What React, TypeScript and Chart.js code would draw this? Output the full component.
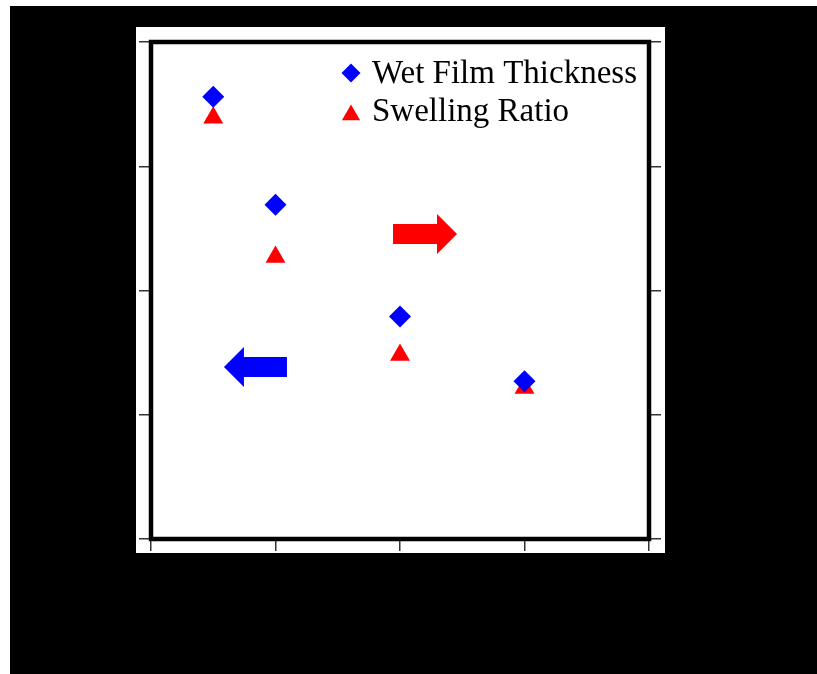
import React, { useEffect, useRef } from "react";
import { Chart, registerables } from "chart.js";

Chart.register(...registerables);

// Data (x in axis units, y normalized axis units 0–4)
const xValues = [0.5, 1, 2, 3];
const wetFilmThickness = [3.56, 2.69, 1.79, 1.27];
const swellingRatio = [3.39, 2.27, 1.48, 1.215];
const seriesLabels = ["Wet Film Thickness", "Swelling Ratio"];
const seriesColors = ["#0000ff", "#ff0000"];

const xTicks = [0, 1, 2, 3, 4];
const yTicks = [0, 1, 2, 3, 4];

// Arrows: [fromX, toX, y] in data units (points from -> to)
const redArrow = [1.944, 2.458, 2.455];
const blueArrow = [1.092, 0.586, 1.384];

const SERIF = '"Liberation Serif", "Times New Roman", serif';

const bgPlugin = {
  id: "plotBg",
  beforeDraw(chart: any) {
    const { ctx, chartArea: a } = chart;
    ctx.save();
    ctx.fillStyle = "#ffffff";
    ctx.fillRect(a.left - 15, a.top - 15, a.right - a.left + 31, a.bottom - a.top + 29);
    ctx.restore();
  },
};

function drawArrow(ctx: any, x0: number, x1: number, y: number, color: string) {
  const dir = x1 > x0 ? 1 : -1;
  const headLen = 20;
  const headHalf = 20;
  const bodyHalf = 10;
  const hb = x1 - dir * headLen;
  ctx.beginPath();
  ctx.moveTo(x0, y - bodyHalf);
  ctx.lineTo(hb, y - bodyHalf);
  ctx.lineTo(hb, y - headHalf);
  ctx.lineTo(x1, y);
  ctx.lineTo(hb, y + headHalf);
  ctx.lineTo(hb, y + bodyHalf);
  ctx.lineTo(x0, y + bodyHalf);
  ctx.closePath();
  ctx.fillStyle = color;
  ctx.fill();
}

const overlayPlugin = {
  id: "overlay",
  beforeDatasetsDraw(chart: any) {
    const { ctx, scales } = chart;
    const xs = scales.x;
    const ys = scales.y;
    ctx.save();
    drawArrow(ctx, xs.getPixelForValue(redArrow[0]), xs.getPixelForValue(redArrow[1]), ys.getPixelForValue(redArrow[2]), "#ff0000");
    drawArrow(ctx, xs.getPixelForValue(blueArrow[0]), xs.getPixelForValue(blueArrow[1]), ys.getPixelForValue(blueArrow[2]), "#0000ff");
    ctx.restore();
  },
  afterDraw(chart: any) {
    const { ctx, chartArea: a } = chart;
    ctx.save();
    // frame
    ctx.strokeStyle = "#000";
    ctx.lineWidth = 4.5;
    ctx.strokeRect(a.left, a.top, a.right - a.left, a.bottom - a.top);
    // legend
    const tx = a.right - 277;
    ctx.font = `33px ${SERIF}`;
    ctx.fillStyle = "#000";
    ctx.textBaseline = "alphabetic";
    ctx.textAlign = "left";
    ctx.fillText(seriesLabels[0], tx, a.top + 41);
    ctx.fillText(seriesLabels[1], tx, a.top + 79);
    // diamond
    const mx = tx - 21;
    const dy = a.top + 31;
    const r = 9.5;
    ctx.fillStyle = seriesColors[0];
    ctx.beginPath();
    ctx.moveTo(mx, dy - r);
    ctx.lineTo(mx + r, dy);
    ctx.lineTo(mx, dy + r);
    ctx.lineTo(mx - r, dy);
    ctx.closePath();
    ctx.fill();
    // triangle
    const ty = a.top + 73;
    const tr = 10.5;
    ctx.fillStyle = seriesColors[1];
    ctx.beginPath();
    ctx.moveTo(mx, ty - tr);
    ctx.lineTo(mx + tr * 0.866, ty + tr * 0.5);
    ctx.lineTo(mx - tr * 0.866, ty + tr * 0.5);
    ctx.closePath();
    ctx.fill();
    ctx.restore();
  },
};

const tickGrid = {
  display: true,
  drawOnChartArea: false,
  drawTicks: true,
  tickLength: 12,
  color: "#333",
  lineWidth: 1.5,
};

export default function App() {
  const ref = useRef<HTMLCanvasElement>(null);
  useEffect(() => {
    if (!ref.current) return;
    const chart = new Chart(ref.current, {
      type: "scatter",
      data: {
        datasets: [
          {
            label: seriesLabels[0],
            data: xValues.map((x, i) => ({ x, y: wetFilmThickness[i] })),
            pointStyle: "rectRot",
            pointRadius: 11,
            backgroundColor: seriesColors[0],
            borderColor: seriesColors[0],
            borderWidth: 0,
            yAxisID: "y",
          },
          {
            label: seriesLabels[1],
            data: xValues.map((x, i) => ({ x, y: swellingRatio[i] })),
            pointStyle: "triangle",
            pointRadius: 11.5,
            backgroundColor: seriesColors[1],
            borderColor: seriesColors[1],
            borderWidth: 0,
            yAxisID: "y2",
          },
        ],
      },
      options: {
        responsive: false,
        animation: false,
        devicePixelRatio: 1,
        layout: { padding: { left: 129, right: 156, top: 36, bottom: 123 } },
        plugins: { legend: { display: false }, tooltip: { enabled: false } },
        scales: {
          x: {
            type: "linear",
            min: xTicks[0],
            max: xTicks[xTicks.length - 1],
            afterBuildTicks: (s: any) => { s.ticks = xTicks.map((v) => ({ value: v })); },
            afterFit: (s: any) => { s.height = 12; },
            ticks: { display: false },
            grid: tickGrid,
            border: { display: false },
          },
          y: {
            type: "linear",
            position: "left",
            min: yTicks[0],
            max: yTicks[yTicks.length - 1],
            afterBuildTicks: (s: any) => { s.ticks = yTicks.map((v) => ({ value: v })); },
            afterFit: (s: any) => { s.width = 12; },
            ticks: { display: false },
            grid: tickGrid,
            border: { display: false },
          },
          y2: {
            type: "linear",
            position: "right",
            min: yTicks[0],
            max: yTicks[yTicks.length - 1],
            afterBuildTicks: (s: any) => { s.ticks = yTicks.map((v) => ({ value: v })); },
            afterFit: (s: any) => { s.width = 12; },
            ticks: { display: false },
            grid: tickGrid,
            border: { display: false },
          },
        },
      },
      plugins: [bgPlugin, overlayPlugin],
    });
    return () => chart.destroy();
  }, []);
  return (
    <div
      style={{
        position: "absolute",
        left: 10,
        top: 6,
        width: 807,
        height: 668,
        background: "#000",
      }}
    >
      <canvas ref={ref} width={807} height={668} style={{ display: "block" }} />
    </div>
  );
}
